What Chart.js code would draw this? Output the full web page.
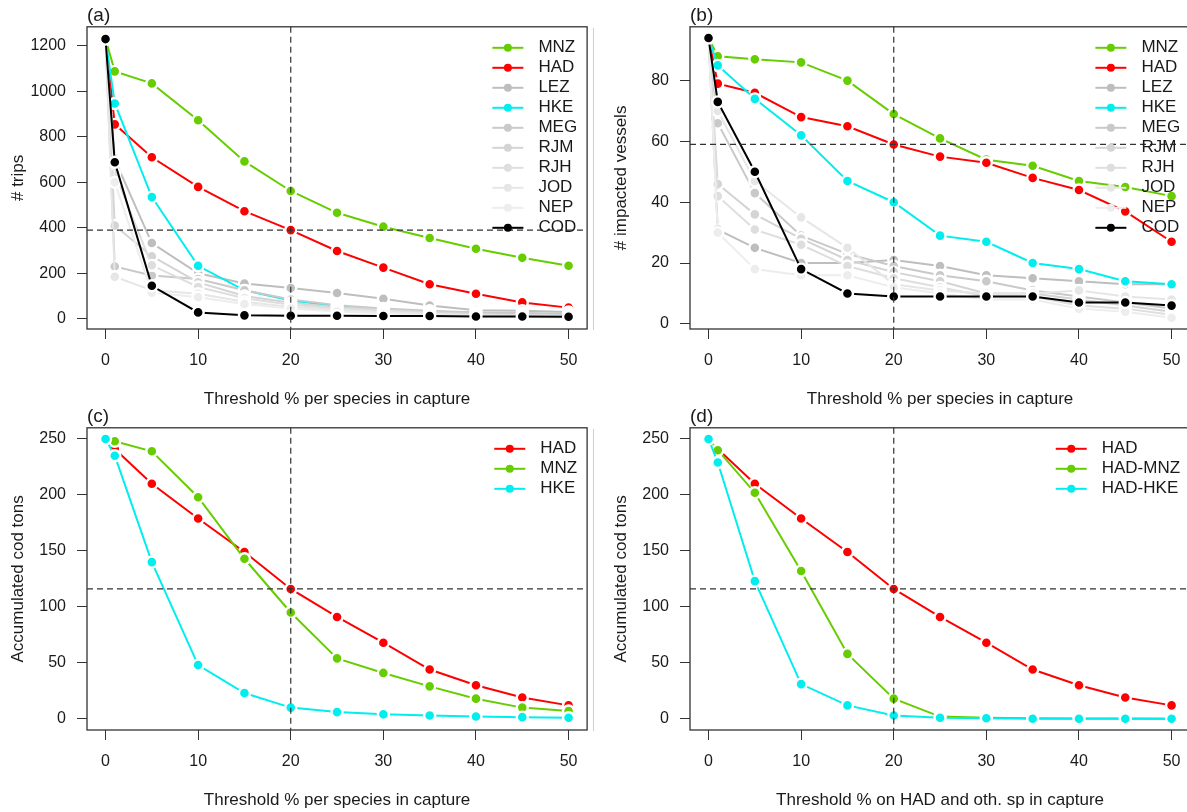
<!DOCTYPE html>
<html>
<head>
<meta charset="utf-8">
<script src="https://cdn.jsdelivr.net/npm/chart.js@4.4.1/dist/chart.umd.min.js"></script>
<style>
  html, body { margin: 0; padding: 0; background: #fff; overflow: hidden; width: 1187px; height: 812px; }
  canvas { position: absolute; }
  .edge { position: absolute; left: 593px; width: 1px; background: #cfcfcf; }
</style>
</head>
<body>
<canvas id="chart-a" width="595" height="410" style="left:0;top:0"></canvas>
<canvas id="chart-b" width="595" height="410" style="left:603px;top:0"></canvas>
<canvas id="chart-c" width="595" height="410" style="left:0;top:401px"></canvas>
<canvas id="chart-d" width="595" height="410" style="left:603px;top:401px"></canvas>
<div class="edge" style="top:28px;height:302px"></div>
<div class="edge" style="top:429px;height:302px"></div>
<script>
// thresholds tested (% per species in capture)
var thresholds = [0, 1, 5, 10, 15, 20, 25, 30, 35, 40, 45, 50];
var xTicks = [0, 10, 20, 30, 40, 50];

// (a) number of trips
var tripsMNZ = [1230, 1088, 1035, 873, 692, 562, 466, 405, 355, 308, 268, 233];
var tripsHAD = [1230, 855, 710, 580, 473, 390, 298, 225, 152, 110, 72, 49];
var tripsLEZ = [1230, 700, 333, 200, 155, 135, 113, 88, 58, 38, 35, 30];
var tripsHKE = [1230, 947, 535, 233, 125, 80, 55, 42, 32, 26, 22, 20];
var tripsMEG = [1230, 230, 190, 175, 125, 85, 60, 45, 35, 28, 25, 22];
var tripsRJM = [1230, 410, 275, 160, 100, 70, 52, 40, 30, 22, 18, 15];
var tripsRJH = [1230, 640, 235, 140, 90, 62, 45, 35, 25, 18, 15, 12];
var tripsJOD = [1230, 185, 125, 110, 75, 52, 40, 30, 22, 15, 12, 10];
var tripsNEP = [1230, 600, 115, 95, 65, 45, 32, 24, 16, 11, 8, 6];
var tripsCOD = [1230, 688, 145, 28, 15, 13, 13, 12, 12, 10, 10, 9];
var tripTicks = [0, 200, 400, 600, 800, 1000, 1200];

// (b) number of impacted vessels
var vesselsMNZ = [94, 88, 87, 86, 80, 69, 61, 54, 52, 47, 45, 42];
var vesselsHAD = [94, 79, 76, 68, 65, 59, 55, 53, 48, 44, 37, 27];
var vesselsLEZ = [94, 31, 25, 20, 20, 21, 19, 16, 15, 14, 13, 13];
var vesselsHKE = [94, 85, 74, 62, 47, 40, 29, 27, 20, 18, 14, 13];
var vesselsMEG = [94, 66, 43, 29, 23, 19, 16, 14, 11, 9, 7, 5];
var vesselsRJM = [94, 46, 36, 28, 21, 17, 14, 10, 10, 8, 6, 4];
var vesselsRJH = [94, 42, 31, 26, 19, 15, 12, 9, 9, 6, 5, 3];
var vesselsJOD = [94, 70, 47, 35, 25, 13, 11, 10, 10, 11, 9, 8];
var vesselsNEP = [94, 30, 18, 16, 16, 12, 10, 8, 8, 5, 4, 2];
var vesselsCOD = [94, 73, 50, 18, 10, 9, 9, 9, 9, 7, 7, 6];
var vesselTicks = [0, 20, 40, 60, 80];

// (c) accumulated cod tons, single species threshold
var codTonsHAD = [250, 241, 210, 179, 149, 116, 91, 68, 44, 30, 19, 12];
var codTonsMNZ = [250, 248, 239, 198, 143, 95, 54, 41, 29, 18, 10, 7];
var codTonsHKE = [250, 235, 140, 48, 23, 10, 6, 4, 3, 2, 1.5, 1];

// (d) accumulated cod tons, threshold on HAD and other species
var mixHAD = [250, 241, 210, 179, 149, 116, 91, 68, 44, 30, 19, 12];
var mixHADMNZ = [250, 240, 202, 132, 58, 18, 2, 1, 0.5, 0.3, 0.2, 0.1];
var mixHADHKE = [250, 229, 123, 31, 12, 3, 1, 0.5, 0, 0, 0, 0];
var tonTicks = [0, 50, 100, 150, 200, 250];

// reference lines (20 % threshold and matching HAD value)
var refX = 20;
var refTrips = 390;
var refVessels = 59;
var refTons = 116;

var colors = {
    MNZ: '#66CD00', HAD: '#FF0000', LEZ: '#BEBEBE', HKE: '#00EEEE',
    MEG: '#C9C9C9', RJM: '#D4D4D4', RJH: '#DEDEDE', JOD: '#E6E6E6',
    NEP: '#EDEDED', COD: '#000000'
};
var fontFamily = '"Liberation Sans", Arial, Helvetica, sans-serif';
var textColor = '#1a1a1a';
Chart.defaults.font.family = fontFamily;

function makeDataset(label, values, color, order) {
    return {
        label: label,
        data: thresholds.map(function(t, i) { return { x: t, y: values[i] }; }),
        borderColor: color,
        backgroundColor: color,
        pointBackgroundColor: color,
        pointBorderColor: '#ffffff',
        pointBorderWidth: 2.4,
        pointRadius: 5.5,
        pointHoverRadius: 5.5,
        borderWidth: 2,
        tension: 0,
        order: order
    };
}

// R-like decorations: dashed reference lines, frame box and inset legend
var rStyle = {
    id: 'rStyle',
    afterDatasetsDraw: function(chart, args, opts) {
        var ctx = chart.ctx, area = chart.chartArea;
        var px = chart.scales.x.getPixelForValue(opts.refX);
        var py = chart.scales.y.getPixelForValue(opts.refY);
        ctx.save();
        ctx.strokeStyle = '#333';
        ctx.lineWidth = 1.2;
        ctx.setLineDash([6, 4]);
        ctx.beginPath();
        ctx.moveTo(px, area.top);
        ctx.lineTo(px, area.bottom);
        ctx.moveTo(area.left, py);
        ctx.lineTo(area.right, py);
        ctx.stroke();
        ctx.restore();
    },
    afterDraw: function(chart) {
        var ctx = chart.ctx, area = chart.chartArea;
        ctx.save();
        ctx.strokeStyle = '#333';
        ctx.lineWidth = 1.3;
        ctx.strokeRect(area.left, area.top, area.right - area.left, area.bottom - area.top);

        // legend
        ctx.font = '17px ' + fontFamily;
        var sets = chart.data.datasets;
        var maxW = 0;
        sets.forEach(function(d) { maxW = Math.max(maxW, ctx.measureText(d.label).width); });
        var textX = area.right - 10 - maxW;
        var lineX = textX - 46;
        sets.forEach(function(d, i) {
            var y = area.top + 21 + i * 20;
            ctx.strokeStyle = d.borderColor;
            ctx.lineWidth = 2;
            ctx.beginPath();
            ctx.moveTo(lineX, y);
            ctx.lineTo(lineX + 31, y);
            ctx.stroke();
            ctx.fillStyle = d.borderColor;
            ctx.beginPath();
            ctx.arc(lineX + 15.5, y, 4, 0, Math.PI * 2);
            ctx.fill();
            ctx.fillStyle = textColor;
            ctx.textBaseline = 'middle';
            ctx.textAlign = 'left';
            ctx.fillText(d.label, textX, y);
        });
        ctx.restore();
    }
};

function makeChart(id, tag, yTitle, xTitle, yMin, yMax, yTicks, refY, datasets) {
    var tickFont = { size: 16, family: fontFamily };
    var titleFont = { size: 17, family: fontFamily };
    return new Chart(document.getElementById(id), {
        type: 'line',
        data: { datasets: datasets },
        plugins: [rStyle],
        options: {
            responsive: false,
            animation: false,
            devicePixelRatio: 1,
            layout: { padding: { left: 0, right: 3, top: 0, bottom: 0 } },
            plugins: {
                legend: { display: false },
                tooltip: { enabled: false },
                title: {
                    display: true, text: tag, align: 'start', fullSize: false,
                    color: textColor, font: { size: 19, weight: 'normal', family: fontFamily },
                    padding: { top: 4, bottom: 0 }
                },
                rStyle: { refX: refX, refY: refY }
            },
            scales: {
                x: {
                    type: 'linear', min: -2, max: 52,
                    afterBuildTicks: function(s) { s.ticks = xTicks.map(function(v) { return { value: v }; }); },
                    afterFit: function(s) { s.height = 81; },
                    grid: { drawOnChartArea: false, drawTicks: true, tickLength: 10, color: '#333' },
                    border: { display: false },
                    ticks: { padding: 12, font: tickFont, color: textColor, maxRotation: 0, autoSkip: false,
                             callback: function(v) { return String(v); } },
                    title: { display: true, text: xTitle, font: titleFont, color: textColor, padding: { top: 0, bottom: 0 } }
                },
                y: {
                    type: 'linear', min: yMin, max: yMax,
                    afterBuildTicks: function(s) { s.ticks = yTicks.map(function(v) { return { value: v }; }); },
                    afterFit: function(s) { s.width = 87; },
                    grid: { drawOnChartArea: false, drawTicks: true, tickLength: 10, color: '#333' },
                    border: { display: false },
                    ticks: { padding: 11, font: tickFont, color: textColor, autoSkip: false,
                             callback: function(v) { return String(v); } },
                    title: { display: true, text: yTitle, font: titleFont, color: textColor, padding: { top: 8, bottom: 0 } }
                }
            }
        }
    });
}

function buildSets(labels, series) {
    return labels.map(function(lab, i) {
        return makeDataset(lab, series[i], colors[lab.replace('HAD-', '')], labels.length - i);
    });
}

var speciesAB = ['MNZ', 'HAD', 'LEZ', 'HKE', 'MEG', 'RJM', 'RJH', 'JOD', 'NEP', 'COD'];

makeChart('chart-a', '(a)', '# trips', 'Threshold % per species in capture',
    -45, 1284, tripTicks, refTrips,
    buildSets(speciesAB, [tripsMNZ, tripsHAD, tripsLEZ, tripsHKE, tripsMEG, tripsRJM, tripsRJH, tripsJOD, tripsNEP, tripsCOD]));

makeChart('chart-b', '(b)', '# impacted vessels', 'Threshold % per species in capture',
    -1.7, 97.7, vesselTicks, refVessels,
    buildSets(speciesAB, [vesselsMNZ, vesselsHAD, vesselsLEZ, vesselsHKE, vesselsMEG, vesselsRJM, vesselsRJH, vesselsJOD, vesselsNEP, vesselsCOD]));

makeChart('chart-c', '(c)', 'Accumulated cod tons', 'Threshold % per species in capture',
    -10, 260, tonTicks, refTons,
    buildSets(['HAD', 'MNZ', 'HKE'], [codTonsHAD, codTonsMNZ, codTonsHKE]));

makeChart('chart-d', '(d)', 'Accumulated cod tons', 'Threshold % on HAD and oth. sp in capture',
    -10, 260, tonTicks, refTons,
    buildSets(['HAD', 'HAD-MNZ', 'HAD-HKE'], [mixHAD, mixHADMNZ, mixHADHKE]));
</script>
</body>
</html>
